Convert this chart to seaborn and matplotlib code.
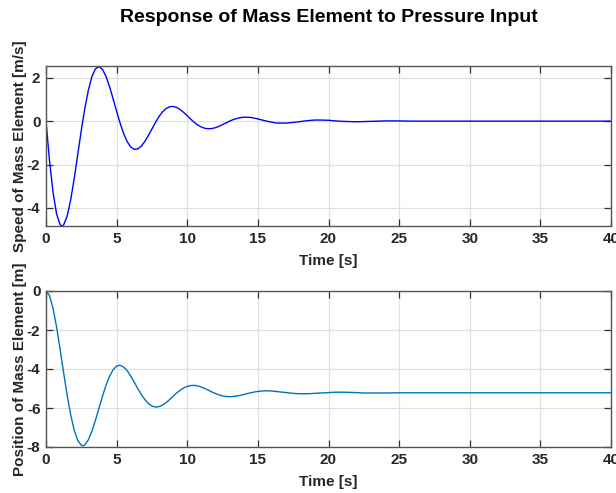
import matplotlib
matplotlib.use("Agg")
import matplotlib.pyplot as plt
import seaborn as sns
import pandas as pd

# ---- data ----
time_s = [0, 0.25, 0.5, 0.75, 1, 1.125, 1.25, 1.5, 1.75, 2, 2.25, 2.5, 2.6, 2.75, 3, 3.25, 3.5, 3.75,
          4, 4.25, 4.5, 4.75, 5, 5.25, 5.5, 5.75, 6, 6.25, 6.5, 6.75, 7, 7.25, 7.5, 7.75,
          8, 8.25, 8.5, 8.75, 9, 9.25, 9.5, 9.75, 10, 10.25, 10.5, 10.75, 11, 11.25, 11.5, 11.75,
          12, 12.25, 12.5, 12.75, 13, 13.25, 13.5, 13.75, 14, 14.25, 14.5, 14.75, 15, 15.25, 15.5, 15.75,
          16, 16.25, 16.5,
          17, 17.5, 18, 18.5, 19, 19.5, 20, 20.5, 21, 21.5, 22, 22.5, 23,
          24, 25, 26, 28, 30, 32, 34, 36, 38, 40]

speed_mps = [0, -1.83, -3.29, -4.28, -4.77, -4.83, -4.78, -4.37, -3.62, -2.63, -1.53, -0.42, 0.00, 0.59, 1.43, 2.05, 2.41, 2.51,
             2.38, 2.06, 1.59, 1.03, 0.45, -0.10, -0.58, -0.95, -1.19, -1.30, -1.28, -1.15, -0.93, -0.66, -0.36, -0.06,
             0.21, 0.43, 0.58, 0.66, 0.68, 0.63, 0.53, 0.40, 0.25, 0.09, -0.06, -0.18, -0.27, -0.33, -0.35, -0.34,
             -0.30, -0.24, -0.16, -0.08, 0.00, 0.07, 0.12, 0.16, 0.18, 0.18, 0.17, 0.14, 0.10, 0.06, 0.02, -0.02,
             -0.05, -0.08, -0.09,
             -0.09, -0.06, -0.02, 0.02, 0.05, 0.05, 0.04, 0.01, -0.01, -0.02, -0.03, -0.02, -0.01,
             0.01, 0.01, 0.00, 0.00, 0.00, 0.00, 0.00, 0.00, 0.00, 0.00]

position_m = [0, -0.24, -0.89, -1.85, -2.99, -3.60, -4.20, -5.35, -6.36, -7.15, -7.67, -7.91, -7.94, -7.89, -7.63, -7.19, -6.63, -6.01,
              -5.39, -4.83, -4.37, -4.04, -3.85, -3.81, -3.90, -4.09, -4.36, -4.68, -5.01, -5.31, -5.57, -5.77, -5.90, -5.95,
              -5.93, -5.85, -5.73, -5.57, -5.40, -5.23, -5.09, -4.97, -4.89, -4.85, -4.84, -4.87, -4.93, -5.00, -5.09, -5.18,
              -5.26, -5.33, -5.38, -5.41, -5.42, -5.41, -5.39, -5.35, -5.31, -5.26, -5.22, -5.18, -5.15, -5.13, -5.12, -5.12,
              -5.13, -5.15, -5.17,
              -5.21, -5.25, -5.27, -5.27, -5.25, -5.23, -5.21, -5.19, -5.19, -5.20, -5.21, -5.23, -5.23,
              -5.23, -5.22, -5.22, -5.22, -5.22, -5.22, -5.22, -5.22, -5.22, -5.22]

x_ticks = [0, 5, 10, 15, 20, 25, 30, 35, 40]
speed_ticks = [-4, -2, 0, 2]
position_ticks = [-8, -6, -4, -2, 0]
x_limits = (0, 40)
speed_limits = (-4.83, 2.54)
position_limits = (-8, 0)

title_text = "Response of Mass Element to Pressure Input"
x_label = "Time [s]"
speed_label = "Speed of Mass Element [m/s]"
position_label = "Position of Mass Element [m]"

# ---- styling ----
sns.set_theme(style="whitegrid")
plt.rcParams['font.family'] = ['Liberation Sans', 'DejaVu Sans']
plt.rcParams['font.weight'] = 'bold'
plt.rcParams['axes.labelweight'] = 'bold'

W, H = 616, 493
fig = plt.figure(figsize=(W / 100, H / 100), dpi=100)
fig.patch.set_facecolor("white")
ax1 = fig.add_axes([46 / W, (H - 226) / H, 565 / W, 160 / H])
ax2 = fig.add_axes([46 / W, (H - 447) / H, 565 / W, 156 / H])

df = pd.DataFrame({"t": time_s, "v": speed_mps, "x": position_m})
sns.lineplot(data=df, x="t", y="v", ax=ax1, color="#0000FF", linewidth=1.0,
             estimator=None, sort=False)
sns.lineplot(data=df, x="t", y="x", ax=ax2, color="#0072BD", linewidth=1.0,
             estimator=None, sort=False)

for ax, yt, yl, lab in [(ax1, speed_ticks, speed_limits, speed_label),
                        (ax2, position_ticks, position_limits, position_label)]:
    ax.set_facecolor("white")
    ax.set_xlim(*x_limits)
    ax.set_ylim(*yl)
    ax.set_xticks(x_ticks)
    ax.set_yticks(yt)
    ax.set_xticklabels([str(v) for v in x_ticks])
    ax.set_yticklabels([str(v) for v in yt])
    ax.grid(True, color="#e0e0e0", linewidth=0.9)
    for sp in ax.spines.values():
        sp.set_visible(True)
        sp.set_color("#555555")
        sp.set_linewidth(1.0)
    ax.tick_params(axis="both", direction="in", length=5, width=0.9, color="#333333",
                   top=True, right=True, bottom=True, left=True,
                   labelsize=11, labelcolor="#262626", pad=4)
    for t in ax.get_xticklabels() + ax.get_yticklabels():
        t.set_fontweight("bold")
    ax.set_xlabel(x_label, fontsize=11, fontweight="bold", color="#262626", labelpad=6)
    ax.set_ylabel(lab, fontsize=11, fontweight="bold", color="#262626", labelpad=0)

fig.text(329 / W, 1 - 18 / H, title_text, ha="center", va="center",
         fontsize=14, fontweight="bold", color="black")

fig.savefig("out.png", dpi=100, facecolor="white")
